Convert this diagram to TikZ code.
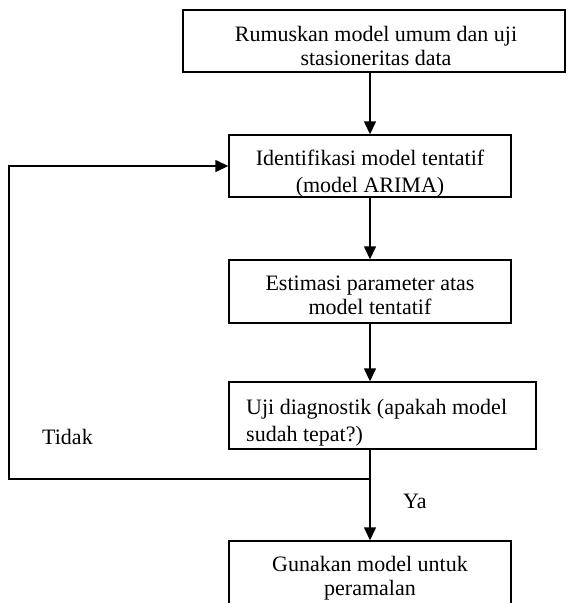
\documentclass[tikz,border=0pt]{standalone}
\usepackage{fontspec}
\setmainfont{Liberation Serif}
\usetikzlibrary{arrows.meta}
\begin{document}
\begin{tikzpicture}[x=1pt,y=-1pt,
  box/.style={draw, line width=1.4pt, rectangle, inner sep=0pt},
  txt/.style={font=\fontsize{22}{24}\selectfont, inner sep=0pt, align=center},
  ltxt/.style={font=\fontsize{22}{24}\selectfont, inner sep=0pt, align=left},
  ln/.style={line width=1.4pt},
  arr/.style={line width=1.4pt, -{Triangle[length=13pt,width=12pt]}}]
\clip (0,0) rectangle (566,603);
% boxes
\node[box, minimum width=382pt, minimum height=62pt] (b1) at (374,41) {};
\node[box, minimum width=282pt, minimum height=62pt] (b2) at (370,166) {};
\node[box, minimum width=282pt, minimum height=63pt] (b3) at (370,291.5) {};
\node[box, minimum width=307pt, minimum height=67pt] (b4) at (382.5,415.5) {};
\node[box, minimum width=282pt, minimum height=70pt] (b5) at (370,576) {};
% texts (anchor base = baseline of the last line)
\node[txt, anchor=base] (t1) at (376,65) {Rumuskan model umum dan uji\\stasioneritas data};
\node[txt, anchor=base] (t2) at (370,192) {Identifikasi model tentatif\\[3pt](model ARIMA)};
\node[txt, anchor=base] (t3) at (370,314) {Estimasi parameter atas\\model tentatif};
\node[ltxt, anchor=base west] (t4) at (246,441) {Uji diagnostik (apakah model\\[3pt]sudah tepat?)};
\node[txt, anchor=base] (t5) at (370,595) {Gunakan model untuk\\peramalan};
\node[ltxt, anchor=base west] (tidak) at (42,444) {Tidak};
\node[ltxt, anchor=base west] (ya) at (403,508) {Ya};
% connectors
\coordinate (j) at (370,479);
\coordinate (lft) at (9,479);
\draw[arr] (b2.north |- b1.south) -- (b2.north);
\draw[arr] (b2.south) -- (b3.north);
\draw[arr] (b3.south) -- (b3.south |- b4.north);
\draw[arr] (b5.north |- b4.south) -- (b5.north);
\draw[arr] (j) -- (lft) |- (b2.west);
\end{tikzpicture}
\end{document}
